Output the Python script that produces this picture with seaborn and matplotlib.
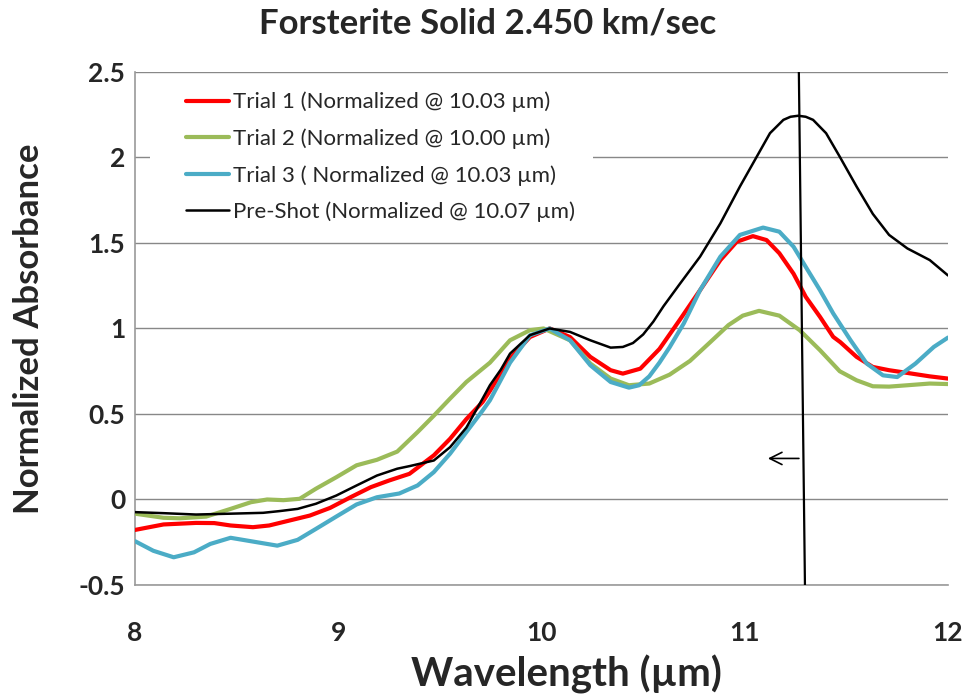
import numpy as np
import pandas as pd
import seaborn as sns
import matplotlib
matplotlib.use('Agg')
import matplotlib.pyplot as plt
from matplotlib.patches import Rectangle

# values
preshot_x = [8.0, 8.14, 8.30, 8.47, 8.63, 8.71, 8.80, 8.89, 8.99, 9.09, 9.19, 9.29, 9.35, 9.47, 9.55,
             9.63, 9.71, 9.746, 9.80, 9.845, 9.943, 10.04, 10.14, 10.24, 10.34, 10.40, 10.45, 10.50,
             10.55, 10.60, 10.68, 10.78, 10.88, 10.976, 11.05, 11.124, 11.19, 11.225, 11.263, 11.30,
             11.336, 11.40, 11.467, 11.55, 11.63, 11.71, 11.80, 11.91, 12.0]
preshot_y = [-0.074, -0.08, -0.088, -0.083, -0.078, -0.068, -0.055, -0.025, 0.023, 0.082, 0.14, 0.18,
             0.195, 0.228, 0.306, 0.42, 0.59, 0.668, 0.76, 0.853, 0.961, 1.0, 0.98, 0.931, 0.888, 0.892,
             0.915, 0.965, 1.04, 1.13, 1.26, 1.42, 1.615, 1.83, 1.986, 2.142, 2.22, 2.238, 2.244, 2.238,
             2.22, 2.142, 2.005, 1.83, 1.67, 1.547, 1.468, 1.40, 1.31]

trial1_x = [8.0, 8.14, 8.30, 8.39, 8.47, 8.58, 8.66, 8.76, 8.86, 8.96, 9.06, 9.16, 9.25, 9.35, 9.47,
            9.55, 9.63, 9.71, 9.746, 9.845, 9.943, 10.04, 10.14, 10.24, 10.34, 10.40, 10.486, 10.58,
            10.68, 10.78, 10.88, 10.96, 11.04, 11.107, 11.17, 11.24, 11.30, 11.37, 11.435, 11.47,
            11.55, 11.63, 11.71, 11.80, 11.91, 12.0]
trial1_y = [-0.178, -0.146, -0.137, -0.138, -0.152, -0.162, -0.152, -0.123, -0.094, -0.049, 0.013,
            0.072, 0.111, 0.15, 0.258, 0.355, 0.47, 0.57, 0.635, 0.824, 0.95, 1.0, 0.95, 0.834, 0.756,
            0.736, 0.765, 0.88, 1.05, 1.224, 1.40, 1.507, 1.54, 1.517, 1.44, 1.32, 1.185, 1.068, 0.951,
            0.92, 0.834, 0.775, 0.756, 0.74, 0.72, 0.707]

trial2_x = [8.0, 8.14, 8.22, 8.35, 8.47, 8.57, 8.65, 8.73, 8.81, 8.89, 8.99, 9.09, 9.19, 9.29, 9.39,
            9.47, 9.55, 9.63, 9.746, 9.845, 9.943, 10.01, 10.14, 10.24, 10.34, 10.43, 10.53, 10.63,
            10.73, 10.83, 10.92, 10.99, 11.07, 11.17, 11.27, 11.37, 11.467, 11.55, 11.63, 11.71, 11.80,
            11.91, 12.0]
trial2_y = [-0.083, -0.107, -0.11, -0.1, -0.055, -0.016, 0.0, -0.004, 0.004, 0.063, 0.13, 0.2, 0.232,
            0.28, 0.394, 0.49, 0.59, 0.687, 0.80, 0.931, 0.99, 1.0, 0.931, 0.795, 0.707, 0.668, 0.678,
            0.73, 0.81, 0.92, 1.02, 1.075, 1.103, 1.075, 0.99, 0.873, 0.75, 0.697, 0.662, 0.66, 0.668,
            0.678, 0.675]

trial3_x = [8.0, 8.09, 8.19, 8.29, 8.37, 8.47, 8.57, 8.70, 8.80, 8.89, 8.99, 9.09, 9.19, 9.30, 9.39,
            9.47, 9.55, 9.63, 9.71, 9.746, 9.845, 9.943, 10.04, 10.14, 10.24, 10.34, 10.43, 10.48,
            10.53, 10.58, 10.63, 10.70, 10.78, 10.88, 10.976, 11.09, 11.17, 11.24, 11.30, 11.37,
            11.435, 11.52, 11.60, 11.68, 11.75, 11.84, 11.93, 12.0]
trial3_y = [-0.244, -0.3, -0.338, -0.309, -0.26, -0.224, -0.244, -0.27, -0.236, -0.172, -0.1, -0.029,
            0.013, 0.035, 0.082, 0.16, 0.268, 0.394, 0.52, 0.58, 0.80, 0.96, 1.0, 0.931, 0.785, 0.687,
            0.654, 0.668, 0.72, 0.80, 0.89, 1.03, 1.224, 1.42, 1.547, 1.59, 1.566, 1.478, 1.36, 1.224,
            1.088, 0.932, 0.795, 0.726, 0.716, 0.795, 0.892, 0.947]

labels = ['Trial 1 (Normalized @ 10.03 µm)',
          'Trial 2 (Normalized @ 10.00 µm)',
          'Trial 3 ( Normalized @ 10.03 µm)',
          'Pre-Shot (Normalized @ 10.07 µm)']

x_ticks = [8, 9, 10, 11, 12]
y_ticks = [-0.5, 0, 0.5, 1, 1.5, 2, 2.5]
y_tick_labels = ['-0.5', '0', '0.5', '1', '1.5', '2', '2.5']

# marker line and arrow
marker_x = [11.266, 11.296]
marker_y = [2.5, -0.5]
arrow_y = 0.24
arrow_from = 11.28
arrow_to = 11.10

sns.set_theme(style='white')
plt.rcParams['font.family'] = ['Lato', 'DejaVu Sans']

fig = plt.figure(figsize=(9.66, 6.96), dpi=100)
ax = fig.add_axes([0.1398, 0.1595, 0.8416, 0.7371])

series = [(trial1_x, trial1_y, '#FF0000', 3.0),
          (trial2_x, trial2_y, '#9BBB59', 3.0),
          (trial3_x, trial3_y, '#4BACC6', 3.0),
          (preshot_x, preshot_y, '#000000', 1.8)]
for (xs, ys, col, lw), lab in zip(series, labels):
    df = pd.DataFrame({'x': xs, 'y': ys})
    sns.lineplot(data=df, x='x', y='y', color=col, lw=lw, label=lab, ax=ax,
                 estimator=None, sort=False, zorder=3,
                 solid_joinstyle='round', solid_capstyle='round')

ax.plot(marker_x, marker_y, color='black', lw=1.6, zorder=4)
ax.annotate('', xy=(arrow_to, arrow_y), xytext=(arrow_from, arrow_y),
            arrowprops=dict(arrowstyle='->', color='black', lw=1.2,
                            mutation_scale=22), zorder=4)

ax.set_xlim(8, 12)
ax.set_ylim(-0.5, 2.5)
ax.set_xticks(x_ticks)
ax.set_xticklabels([str(t) for t in x_ticks], fontsize=19, fontweight='bold')
ax.set_yticks(y_ticks)
ax.set_yticklabels(y_tick_labels, fontsize=19, fontweight='bold')
ax.tick_params(axis='x', direction='in', length=6, width=1, color='#999999', pad=26)
ax.tick_params(axis='y', length=0, pad=7)
ax.yaxis.grid(True, color='#888888', lw=1)
ax.xaxis.grid(False)
for side in ['top', 'right']:
    ax.spines[side].set_visible(False)
for side in ['left', 'bottom']:
    ax.spines[side].set_color('#999999')
    ax.spines[side].set_linewidth(1.2)

# white plate behind the legend hides the gridline there
ax.add_patch(Rectangle((0.018, 0.70), 0.545, 0.275, transform=ax.transAxes,
                       facecolor='white', edgecolor='none', zorder=2))

ax.set_xlabel('Wavelength (µm)', fontsize=29, fontweight='bold')
ax.xaxis.set_label_coords(0.531, -0.137)
ax.set_ylabel('Normalized Absorbance', fontsize=25, fontweight='bold', labelpad=24)
ax.set_title('Forsterite Solid 2.450 km/sec', fontsize=25, fontweight='bold', pad=28, x=0.434)

leg = ax.legend(loc='upper left', bbox_to_anchor=(0.041, 0.996), frameon=True, fontsize=16,
                handlelength=1.95, handletextpad=0.15, labelspacing=0.72, borderpad=0.3)
leg.get_frame().set_facecolor('white')
leg.get_frame().set_edgecolor('white')
leg.get_frame().set_alpha(1.0)
leg.set_zorder(5)

fig.savefig('out.png', dpi=100)
